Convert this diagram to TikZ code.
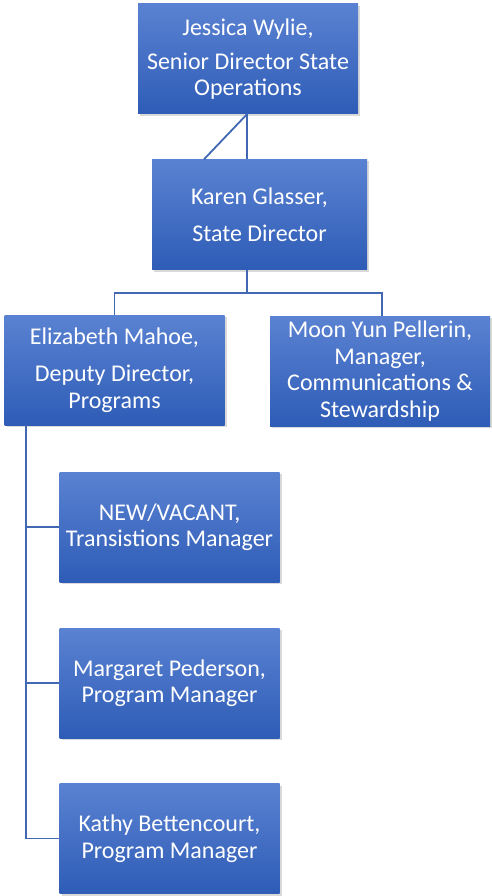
\documentclass[tikz,border=0pt]{standalone}
\usepackage{fontspec}
\setmainfont{Carlito}
\usetikzlibrary{calc,shadows}
\definecolor{boxtop}{HTML}{5A82D2}
\definecolor{boxbot}{HTML}{2E5CB6}
\definecolor{wirecol}{HTML}{4268B4}

\begin{document}
\begin{tikzpicture}[x=1pt,y=-1pt,
    post/.style={rectangle, top color=boxtop, bottom color=boxbot, draw=none,
      text=white, align=center, font=\fontsize{24}{26.5}\selectfont,
      minimum width=220pt, minimum height=110pt, inner sep=2pt,
      drop shadow={opacity=0.3, shadow xshift=2pt, shadow yshift=-2pt}},
    wire/.style={draw=wirecol, line width=1.8pt}]
  \useasboundingbox (0,0) rectangle (491,896);
  % people
  \node[post] (jw) at (248,59) {Jessica Wylie,\\[7.5pt] Senior Director State\\ Operations};
  \node[post, minimum width=215pt] (kg) at (259.5,214.5) {Karen Glasser,\\[10.5pt] State Director};
  \node[post] (em) at (114.5,370) {Elizabeth Mahoe,\\[11pt] Deputy Director,\\ Programs};
  \node[post] (mp) at (380,371) {Moon Yun Pellerin,\\ Manager,\\ Communications \&\\ Stewardship};
  \node[post] (nv) at (169.5,527) {NEW/VACANT,\\ Transistions Manager};
  \node[post] (mpd) at (169.5,683) {Margaret Pederson,\\ Program Manager};
  \node[post] (kb) at (169.5,838.5) {Kathy Bettencourt,\\ Program Manager};
  % links
  \coordinate (top) at ([xshift=-1pt]jw.south);
  \coordinate (bus) at ($(top |- kg.south)+(0,23)$);
  \coordinate (spine) at ([xshift=22pt]em.south west);
  \draw[wire] (top) -- (top |- kg.north);
  \draw[wire] (top) -- ([xshift=-55.5pt]kg.north);
  \draw[wire] (top |- kg.south) -- (bus) -| (em.north);
  \draw[wire] (bus) -| ([xshift=2pt]mp.north);
  \draw[wire] (spine) |- (kb.west);
  \draw[wire] (spine |- nv.west) -- (nv.west);
  \draw[wire] (spine |- mpd.west) -- (mpd.west);
\end{tikzpicture}
\end{document}
